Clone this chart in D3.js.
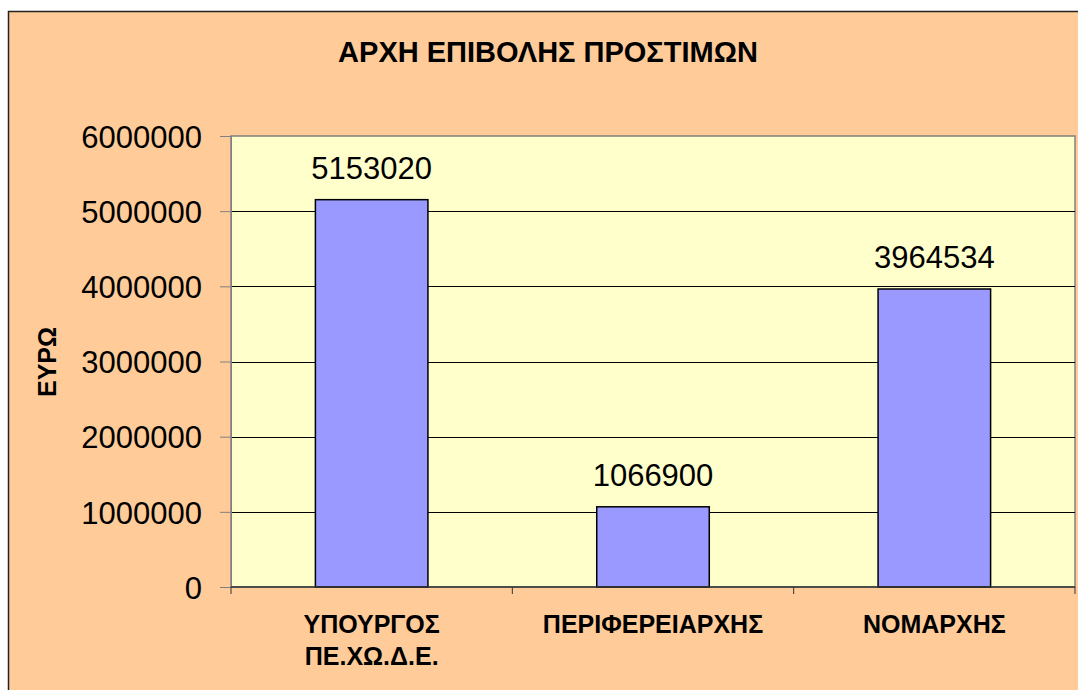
<!DOCTYPE html>
<html>
<head>
<meta charset="utf-8">
<title>ΑΡΧΗ ΕΠΙΒΟΛΗΣ ΠΡΟΣΤΙΜΩΝ</title>
<script src="https://d3js.org/d3.v7.min.js"></script>
<style>
  body { margin: 0; background: #fff; }
  svg { display: block; font-family: "Liberation Sans", Arial, sans-serif; }
  .grid line { stroke: #000; stroke-width: 1px; }
  .y.axis text { font-size: 31px; fill: #000; }
  .y.axis line { stroke: #808080; }
  .cat { font-size: 25px; font-weight: bold; fill: #000; }
  .title { font-size: 29px; font-weight: bold; fill: #000; }
  .val { font-size: 31px; fill: #000; }
</style>
</head>
<body>
<script>
const title = "ΑΡΧΗ ΕΠΙΒΟΛΗΣ ΠΡΟΣΤΙΜΩΝ";
const yTitle = "ΕΥΡΩ";
const categories = ["ΥΠΟΥΡΓΟΣ ΠΕ.ΧΩ.Δ.Ε.", "ΠΕΡΙΦΕΡΕΙΑΡΧΗΣ", "ΝΟΜΑΡΧΗΣ"];
const categoryLines = [["ΥΠΟΥΡΓΟΣ", "ΠΕ.ΧΩ.Δ.Ε."], ["ΠΕΡΙΦΕΡΕΙΑΡΧΗΣ"], ["ΝΟΜΑΡΧΗΣ"]];
const values = [5153020, 1066900, 3964534];
const yTicks = [0, 1000000, 2000000, 3000000, 4000000, 5000000, 6000000];

const width = 1078, height = 690;
const plot = { left: 231, top: 136, right: 1075, bottom: 587 };

const svg = d3.select("body").append("svg")
  .attr("width", width)
  .attr("height", height);

// chart area background and border
svg.append("rect")
  .attr("x", 8.5).attr("y", 11.5)
  .attr("width", width + 10).attr("height", height + 10)
  .attr("fill", "#FFCC99")
  .attr("stroke", "#222").attr("stroke-width", 1.5);

svg.append("text")
  .attr("x", 548).attr("y", 62)
  .attr("text-anchor", "middle")
  .attr("class", "title")
  .text(title);

const x = d3.scaleBand()
  .domain(categories)
  .range([plot.left, plot.right])
  .paddingInner(0.6)
  .paddingOuter(0.3);

const y = d3.scaleLinear()
  .domain([0, 6000000])
  .range([plot.bottom, plot.top]);

// plot area
svg.append("rect")
  .attr("x", plot.left).attr("y", plot.top)
  .attr("width", plot.right - plot.left).attr("height", plot.bottom - plot.top)
  .attr("fill", "#FFFFCC")
  .attr("stroke", "#808080").attr("stroke-width", 1.5);

svg.append("g")
  .attr("class", "grid")
  .selectAll("line")
  .data(yTicks.filter(d => d > 0 && d < 6000000))
  .join("line")
  .attr("x1", plot.left).attr("x2", plot.right)
  .attr("y1", d => Math.round(y(d)) + 0.5)
  .attr("y2", d => Math.round(y(d)) + 0.5);

const yAxis = d3.axisLeft(y).tickValues(yTicks).tickFormat(d3.format("d")).tickSize(11).tickPadding(18);
svg.append("g")
  .attr("class", "y axis")
  .attr("transform", `translate(${plot.left},0)`)
  .call(yAxis)
  .call(g => g.select(".domain").attr("stroke", "#808080"))
  .call(g => g.selectAll("text").attr("dy", "0.36em"));

// bars
svg.append("g")
  .selectAll("rect")
  .data(values)
  .join("rect")
  .attr("x", (d, i) => x(categories[i]))
  .attr("y", d => y(d))
  .attr("width", x.bandwidth())
  .attr("height", d => y(0) - y(d))
  .attr("fill", "#9999FF")
  .attr("stroke", "#000")
  .attr("stroke-width", 1.5);

// value labels
svg.append("g")
  .selectAll("text")
  .data(values)
  .join("text")
  .attr("class", "val")
  .attr("x", (d, i) => x(categories[i]) + x.bandwidth() / 2)
  .attr("y", d => y(d) - 21)
  .attr("text-anchor", "middle")
  .text(d => d);

// x axis line and ticks at category boundaries
const edges = [plot.left, ...categories.slice(1).map(c => x(c) - x.step() * x.paddingInner() / 2), plot.right];
svg.append("line")
  .attr("x1", plot.left).attr("x2", plot.right)
  .attr("y1", plot.bottom).attr("y2", plot.bottom)
  .attr("stroke", "#333").attr("stroke-width", 1.5);
svg.append("g")
  .selectAll("line")
  .data(edges)
  .join("line")
  .attr("x1", d => d).attr("x2", d => d)
  .attr("y1", plot.bottom).attr("y2", plot.bottom + 7)
  .attr("stroke", "#333").attr("stroke-width", 1);

// category labels
svg.append("g")
  .selectAll("text")
  .data(categories)
  .join("text")
  .attr("class", "cat")
  .attr("text-anchor", "middle")
  .attr("x", d => x(d) + x.bandwidth() / 2)
  .attr("y", 633)
  .selectAll("tspan")
  .data((d, i) => categoryLines[i])
  .join("tspan")
  .attr("x", function () { return this.parentNode.getAttribute("x"); })
  .attr("dy", (d, i) => i === 0 ? 0 : 32)
  .text(d => d);

// y axis title
svg.append("text")
  .attr("class", "cat")
  .attr("text-anchor", "middle")
  .attr("transform", "translate(56,362) rotate(-90)")
  .text(yTitle);
</script>
</body>
</html>
